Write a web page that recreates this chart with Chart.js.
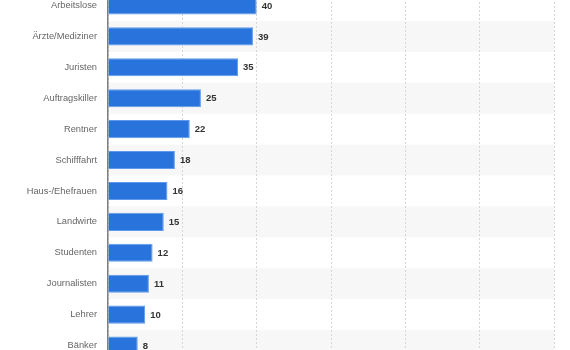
<!DOCTYPE html>
<html>
<head>
<meta charset="utf-8">
<script src="https://cdn.jsdelivr.net/npm/chart.js@4/dist/chart.umd.min.js"></script>
<style>
  html, body { margin: 0; padding: 0; background: #ffffff; overflow: hidden; }
  #wrap { position: absolute; left: 0; top: -10px; width: 570px; height: 371px; }
</style>
</head>
<body>
<div id="wrap"><canvas id="c"></canvas></div>
<script>
const categories = ["Arbeitslose", "Ärzte/Mediziner", "Juristen", "Auftragskiller", "Rentner", "Schifffahrt", "Haus-/Ehefrauen", "Landwirte", "Studenten", "Journalisten", "Lehrer", "Bänker"];
const values = [40, 39, 35, 25, 22, 18, 16, 15, 12, 11, 10, 8];
const xTicks = [0, 20, 40, 60, 80, 100, 120];

const stripePlugin = {
  id: 'stripes',
  beforeDraw(chart) {
    const { ctx, chartArea, scales } = chart;
    const y = scales.y;
    const n = categories.length;
    const h = (chartArea.bottom - chartArea.top) / n;
    ctx.save();
    ctx.fillStyle = '#f7f7f7';
    for (let i = 0; i < n; i++) {
      if (i % 2 === 1) {
        const cy = y.getPixelForValue(i);
        ctx.fillRect(chartArea.left, cy - h / 2, chartArea.right - chartArea.left, h);
      }
    }
    ctx.restore();
  }
};

const valueLabelPlugin = {
  id: 'valueLabels',
  afterDatasetsDraw(chart) {
    const { ctx } = chart;
    const meta = chart.getDatasetMeta(0);
    ctx.save();
    ctx.font = 'bold 9.5px "Liberation Sans", Arial, sans-serif';
    ctx.fillStyle = '#333333';
    ctx.textAlign = 'left';
    ctx.textBaseline = 'middle';
    meta.data.forEach((bar, i) => {
      ctx.fillText(String(values[i]), bar.x + 5, bar.y + 0.5);
    });
    ctx.restore();
  }
};

new Chart(document.getElementById('c'), {
  type: 'bar',
  data: {
    labels: categories,
    datasets: [{
      data: values,
      backgroundColor: '#2874dc',
      borderColor: '#5d9aec',
      borderWidth: 1,
      barPercentage: 0.585,
      categoryPercentage: 1.0
    }]
  },
  options: {
    indexAxis: 'y',
    responsive: true,
    maintainAspectRatio: false,
    animation: false,
    layout: { padding: { left: 0, right: 16, top: 0, bottom: 0 } },
    plugins: { legend: { display: false }, tooltip: { enabled: false } },
    scales: {
      x: {
        min: xTicks[0],
        max: xTicks[xTicks.length - 1],
        afterBuildTicks(scale) { scale.ticks = xTicks.map(v => ({ value: v })); },
        afterFit(scale) { scale.height = 0; scale.paddingLeft = 0; scale.paddingRight = 0; },
        ticks: { display: false },
        border: { display: false, dash: [2, 2] },
        grid: { color: '#d6d6d6', lineWidth: 1, drawTicks: false }
      },
      y: {
        afterFit(scale) { scale.width = 108; scale.paddingTop = 0; scale.paddingBottom = 0; },
        ticks: {
          color: '#666666',
          padding: 11,
          font: { family: '"Liberation Sans", Arial, sans-serif', size: 9.3 }
        },
        grid: { display: false, drawTicks: false },
        border: { display: true, color: '#7f7f7f', width: 1.5 }
      }
    }
  },
  plugins: [stripePlugin, valueLabelPlugin]
});
</script>
</body>
</html>
